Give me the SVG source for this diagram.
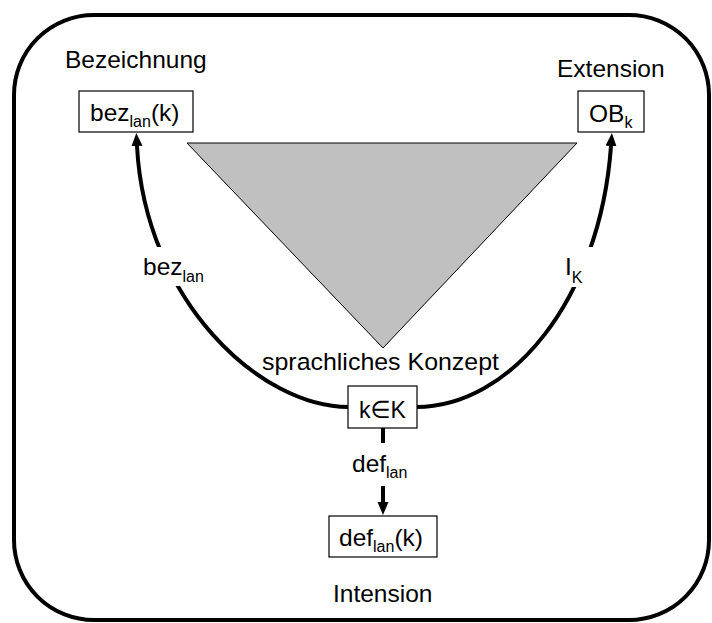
<svg xmlns="http://www.w3.org/2000/svg" width="712" height="623" viewBox="0 0 712 623">
<style>
.t{font-family:"Liberation Sans",Arial,"DejaVu Sans",sans-serif;font-size:24.5px;fill:#000}
.box{fill:#fff;stroke:#000;stroke-width:1.2}
.conn{fill:none;stroke:#000;stroke-width:4}
.gap{fill:#fff;stroke:none}
</style>
<defs>
<marker id="ah" markerUnits="userSpaceOnUse" markerWidth="14" markerHeight="12" refX="0" refY="5.5" orient="auto">
<path d="M0,0 L13,5.5 L0,11 z" fill="#000"/>
</marker>
</defs>
<rect x="14" y="15" width="695" height="605" rx="80" ry="80" fill="#fff" stroke="#000" stroke-width="4"/>
<g id="triangle">
<polygon points="187,143 577,143 383,348" fill="#c0c0c0" stroke="#000" stroke-width="1"/>
</g>
<g id="connectors">
<path class="conn" d="M 350,407 C 260,408 145,300 137,146" marker-end="url(#ah)"/>
<path class="conn" d="M 415,407 C 510,408 600,300 611,146" marker-end="url(#ah)"/>
<line class="conn" x1="383" y1="428" x2="383" y2="443"/>
<line class="conn" x1="383" y1="486" x2="383" y2="502" marker-end="url(#ah)"/>
</g>
<g id="label-bezeichnung"><text class="t" x="65" y="68">Bezeichnung</text></g>
<g id="label-extension"><text class="t" x="557" y="77">Extension</text></g>
<g id="label-konzept"><text class="t" x="262" y="370" textLength="237" lengthAdjust="spacingAndGlyphs">sprachliches Konzept</text></g>
<g id="label-intension"><text class="t" x="333" y="602">Intension</text></g>
<g id="node-bez">
<rect class="box" x="79" y="91" width="114" height="41"/>
<text class="t" x="90" y="121">bez<tspan font-size="16" dy="6">lan</tspan><tspan dy="-6">(k)</tspan></text>
</g>
<g id="node-ob">
<rect class="box" x="578" y="91" width="66" height="41"/>
<text class="t" x="589" y="122">OB<tspan font-size="16" dy="6">k</tspan></text>
</g>
<g id="node-k">
<rect class="box" x="348" y="386" width="69" height="42"/>
<text class="t" x="359" y="418" textLength="47" lengthAdjust="spacingAndGlyphs">k∈K</text>
</g>
<g id="node-def">
<rect class="box" x="329" y="516" width="108" height="41"/>
<text class="t" x="339" y="546">def<tspan font-size="16" dy="6">lan</tspan><tspan dy="-6">(k)</tspan></text>
</g>
<g id="edge-labels">
<rect class="gap" x="141" y="247" width="68" height="39"/>
<text class="t" x="143" y="275">bez<tspan font-size="16" dy="7">lan</tspan></text>
<rect class="gap" x="560" y="247" width="40" height="40"/>
<text class="t" x="565" y="275">I<tspan font-size="16" dy="8">K</tspan></text>
<text class="t" x="352" y="472">def<tspan font-size="16" dy="6">lan</tspan></text>
</g>
</svg>
